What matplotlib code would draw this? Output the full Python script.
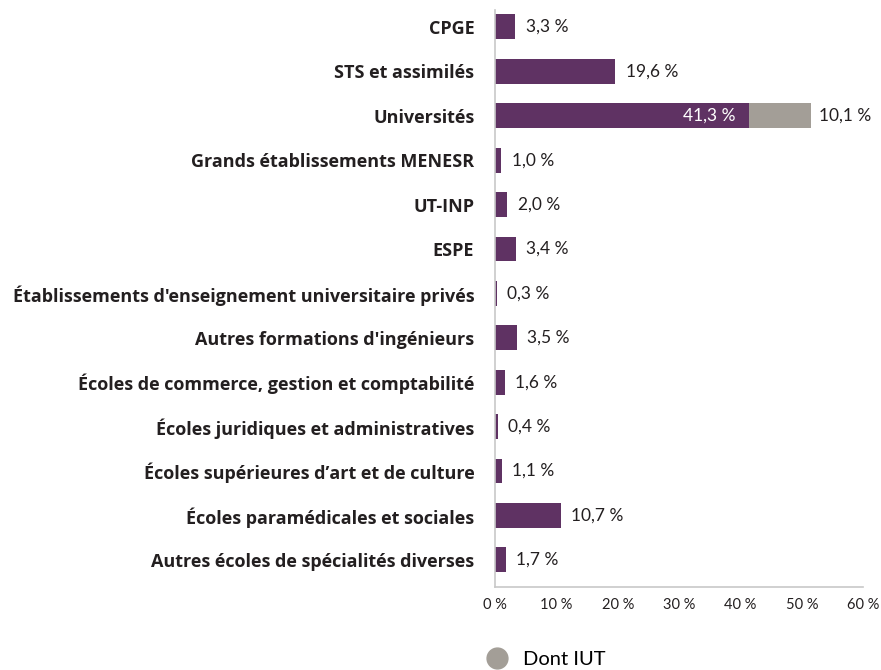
import numpy as np
import matplotlib.pyplot as plt
from matplotlib.lines import Line2D

# ---- data --------------------------------------------------------------------
categories = [
    "CPGE",
    "STS et assimilés",
    "Universités",
    "Grands établissements MENESR",
    "UT-INP",
    "ESPE",
    "Établissements d'enseignement universitaire privés",
    "Autres formations d'ingénieurs",
    "Écoles de commerce, gestion et comptabilité",
    "Écoles juridiques et administratives",
    "Écoles supérieures d\u2019art et de culture",
    "Écoles paramédicales et sociales",
    "Autres écoles de spécialités diverses",
]
shares = [3.3, 19.6, 41.3, 1.0, 2.0, 3.4, 0.3, 3.5, 1.6, 0.4, 1.1, 10.7, 1.7]
iut = [0, 0, 10.1, 0, 0, 0, 0, 0, 0, 0, 0, 0, 0]
xticks = [0, 10, 20, 30, 40, 50, 60]

purple = '#5f3263'
grey = '#a39e97'
text_col = '#231f20'

plt.rcParams['font.family'] = ['Lato', 'DejaVu Sans']

fig = plt.figure(figsize=(8.81, 6.70), dpi=100)
ax = fig.add_axes([0.562, 0.124, 0.418, 0.861])

y = np.arange(len(categories))
ax.barh(y, shares, height=0.56, color=purple)
ax.barh(y, iut, left=shares, height=0.56, color=grey)

def fmt(v):
    return f"{v:.1f}".replace('.', ',') + ' %'

for i, (s, g) in enumerate(zip(shares, iut)):
    if g > 0:
        ax.text(s - 2.2, i, fmt(s), ha='right', va='center', color='white', fontsize=12.5)
        ax.text(s + g + 1.3, i, fmt(g), ha='left', va='center', color=text_col, fontsize=12.5)
    else:
        ax.text(s + 1.7, i, fmt(s), ha='left', va='center', color=text_col, fontsize=12.5)

ax.set_xlim(0, 60)
ax.set_ylim(len(categories) - 1 + 0.61, -0.38)
ax.set_xticks(xticks)
ax.set_xticklabels([f"{t} %" for t in xticks], fontsize=10.5, color=text_col)
ax.set_yticks(y)
ax.set_yticklabels(categories, fontsize=13, fontweight='bold', color=text_col,
                   family=['Open Sans', 'DejaVu Sans'])
ax.tick_params(axis='both', length=0)
ax.tick_params(axis='y', pad=15)
ax.tick_params(axis='x', pad=8)

for side in ['top', 'right']:
    ax.spines[side].set_visible(False)
for side in ['left', 'bottom']:
    ax.spines[side].set_color('#c8c8c8')
    ax.spines[side].set_linewidth(1.2)

handle = Line2D([], [], marker='o', linestyle='none', markersize=15,
                markerfacecolor=grey, markeredgecolor=grey)
fig.legend([handle], ['Dont IUT'], loc='center', bbox_to_anchor=(0.614, 0.015),
           frameon=False, fontsize=14.5, handletextpad=0.3, borderpad=0)

fig.savefig('out.png', dpi=100)
